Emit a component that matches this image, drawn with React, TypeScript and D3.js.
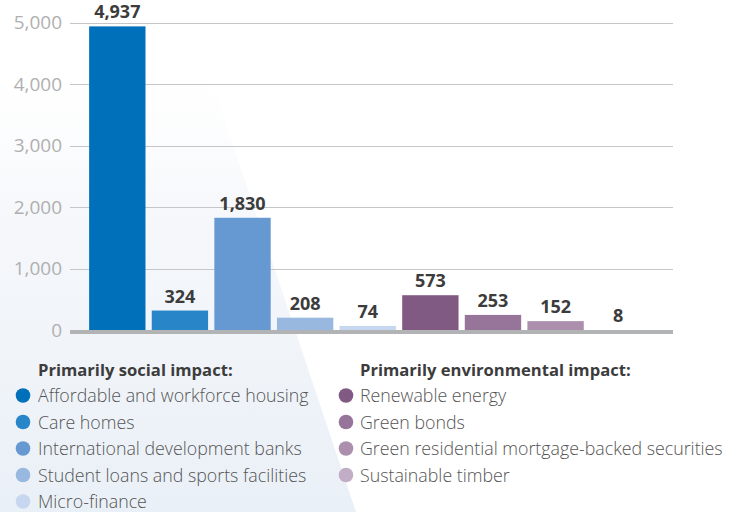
import React from "react";
import * as d3 from "d3";

const categories = [
  "Affordable and workforce housing",
  "Care homes",
  "International development banks",
  "Student loans and sports facilities",
  "Micro-finance",
  "Renewable energy",
  "Green bonds",
  "Green residential mortgage-backed securities",
  "Sustainable timber",
];
const values = [4937, 324, 1830, 208, 74, 573, 253, 152, 8];
const colors = [
  "#0070ba", "#2886c8", "#6699d1", "#98b8e0", "#c6d7ef",
  "#805a83", "#977499", "#ab8fad", "#c2adc6",
];
const yTicks = [0, 1000, 2000, 3000, 4000, 5000];
const socialTitle = "Primarily social impact:";
const envTitle = "Primarily environmental impact:";
const socialIdx = [0, 1, 2, 3, 4];
const envIdx = [5, 6, 7, 8];

const FONT = "'Open Sans', 'Noto Sans', sans-serif";

export default function App() {
  const W = 740, H = 512;
  const x = d3.scaleBand<string>().domain(categories).range([86, 649.5]).paddingInner(0.1).paddingOuter(0.05);
  const y = d3.scaleLinear().domain([0, 5000]).range([330.5, 22.5]);
  const fmt = d3.format(",");
  const gridX0 = 70, gridX1 = 673;
  const legendY0 = 395.5, legendStep = 26.5;

  return (
    <svg width={W} height={H} style={{ position: "absolute", left: 0, top: 0, display: "block" }}>
      <defs>
        <linearGradient id="bg" x1="0" y1="0" x2="0" y2="1">
          <stop offset="0" stopColor="#ffffff" stopOpacity={0} />
          <stop offset="0.35" stopColor="#f6f8fb" stopOpacity={1} />
          <stop offset="1" stopColor="#eaf0f7" stopOpacity={1} />
        </linearGradient>
      </defs>
      <rect x={0} y={0} width={W} height={H} fill="#ffffff" />
      <polygon points={`0,40 198,40 356,512 0,512`} fill="url(#bg)" />
      {yTicks.filter(t => t > 0).map(t => (
        <line key={t} x1={gridX0} x2={gridX1} y1={Math.round(y(t)) + 0.5} y2={Math.round(y(t)) + 0.5} stroke="#c6c6c6" strokeWidth={1} />
      ))}
      {yTicks.map(t => (
        <text key={t} x={62} y={y(t) + 6.5} textAnchor="end" fontFamily={FONT} fontSize={19} fill="#b0b0b0">{fmt(t)}</text>
      ))}
      {categories.map((c, i) => (
        <rect key={c} x={x(c)} y={y(values[i])} width={x.bandwidth()} height={y(0) - y(values[i]) + 1} fill={colors[i]} />
      ))}
      <rect x={gridX0} y={y(0) - 0.5} width={gridX1 - gridX0} height={4} fill="#b1b3b5" />
      {categories.map((c, i) => (
        <text key={c} x={(x(c) as number) + x.bandwidth() / 2} y={y(values[i]) - 8} textAnchor="middle" fontFamily={FONT} fontWeight={700} fontSize={18} fill="#3c3c3c">{fmt(values[i])}</text>
      ))}
      <text x={38} y={376} fontFamily={FONT} fontWeight={700} fontSize={16.6} fill="#3c3c3c">{socialTitle}</text>
      {socialIdx.map((k, j) => (
        <g key={k} transform={`translate(0, ${legendY0 + j * legendStep})`}>
          <circle cx={23} cy={0} r={7.3} fill={colors[k]} />
          <text x={38} y={6.5} fontFamily={FONT} fontWeight={300} fontSize={17.8} fill="#555555">{categories[k]}</text>
        </g>
      ))}
      <text x={360} y={376} fontFamily={FONT} fontWeight={700} fontSize={16.6} fill="#3c3c3c">{envTitle}</text>
      {envIdx.map((k, j) => (
        <g key={k} transform={`translate(0, ${legendY0 + j * legendStep})`}>
          <circle cx={346} cy={0} r={7.3} fill={colors[k]} />
          <text x={360} y={6.5} fontFamily={FONT} fontWeight={300} fontSize={17.8} fill="#555555">{categories[k]}</text>
        </g>
      ))}
    </svg>
  );
}
